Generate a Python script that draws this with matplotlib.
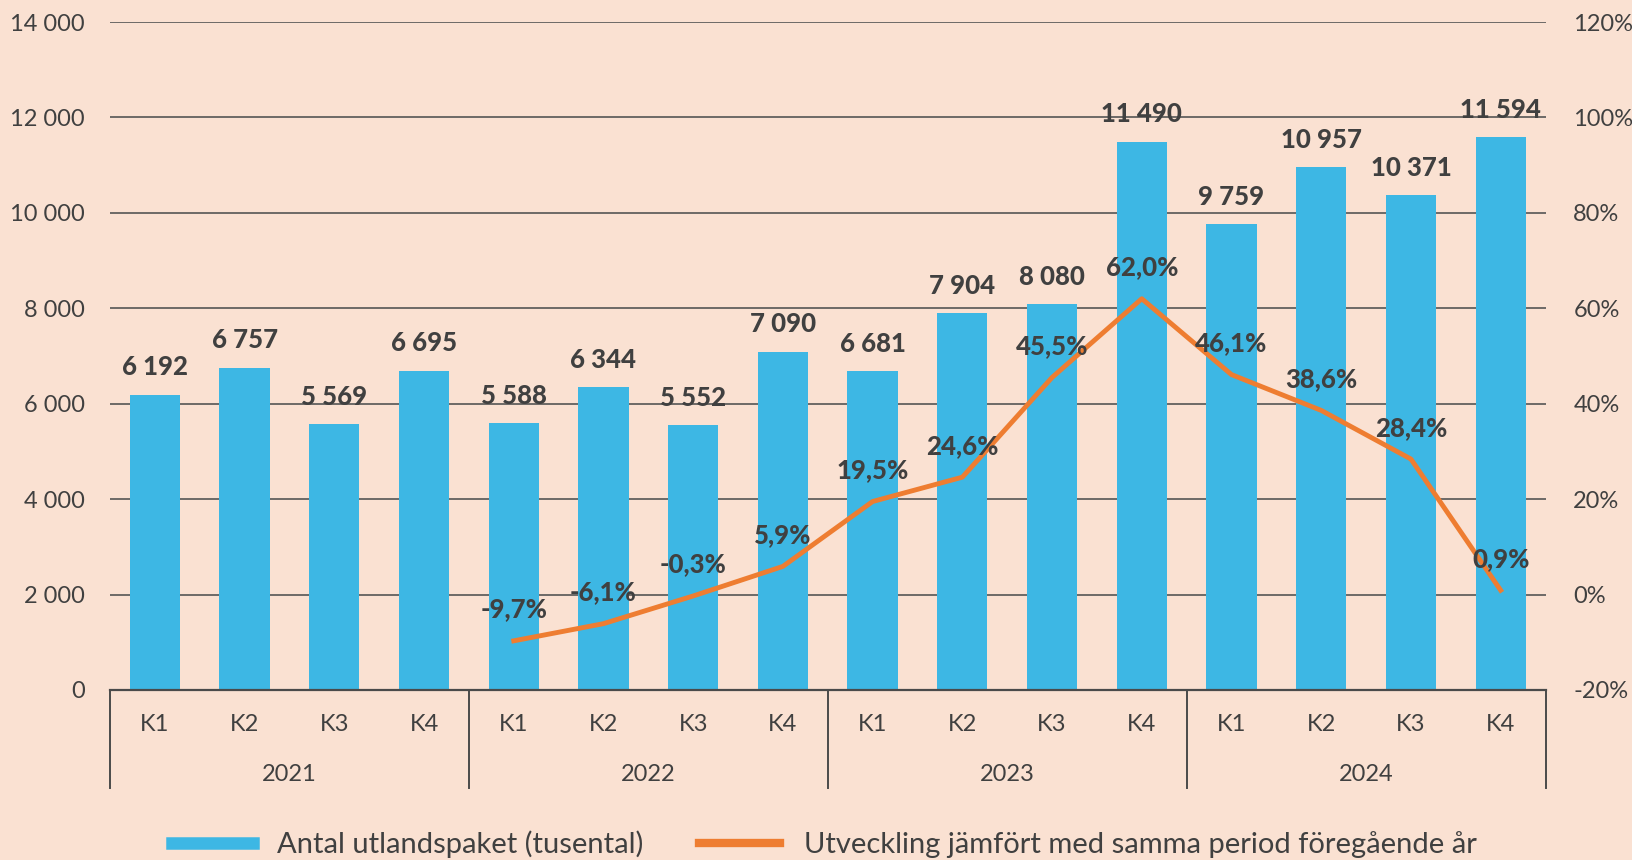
import matplotlib.pyplot as plt
import matplotlib.transforms as mtransforms
from matplotlib.lines import Line2D

# data
quarters = ['K1', 'K2', 'K3', 'K4'] * 4
years = ['2021', '2022', '2023', '2024']
parcels = [6192, 6757, 5569, 6695, 5588, 6344, 5552, 7090,
           6681, 7904, 8080, 11490, 9759, 10957, 10371, 11594]
change = [None, None, None, None, -9.7, -6.1, -0.3, 5.9,
          19.5, 24.6, 45.5, 62.0, 46.1, 38.6, 28.4, 0.9]

BG = '#FAE1D2'
BLUE = '#3DB7E4'
ORANGE = '#EE7D31'
TXT = '#404040'

plt.rcParams['font.family'] = ['Lato', 'DejaVu Sans']

fig = plt.figure(figsize=(16.32, 8.6), dpi=100, facecolor=BG)
ax = fig.add_axes([0.0674, 0.1977, 0.947 - 0.0674, 0.9744 - 0.1977])
ax.set_facecolor(BG)
ax2 = ax.twinx()

x = list(range(len(parcels)))
ax.bar(x, parcels, width=0.56, color=BLUE, zorder=2)
ax.set_xlim(-0.5, 15.5)
ax.set_ylim(0, 14000)
ax.set_yticks(range(0, 14001, 2000))
ax.set_yticklabels([f'{v:,}'.replace(',', ' ') for v in range(0, 14001, 2000)])
ax.grid(axis='y', color='#555555', linewidth=1.2, zorder=0)
ax.set_axisbelow(True)

for s in ['top', 'left', 'right']:
    ax.spines[s].set_visible(False)
    ax2.spines[s].set_visible(False)
ax2.spines['bottom'].set_visible(False)
ax.spines['bottom'].set_color('#4a4a4a')
ax.spines['bottom'].set_linewidth(1.6)

ax.tick_params(axis='y', length=0, pad=18, labelsize=17, labelcolor=TXT)
ax.set_xticks(x)
ax.set_xticklabels(quarters)
ax.tick_params(axis='x', length=0, pad=17, labelsize=17, labelcolor=TXT)

for xi, v in zip(x, parcels):
    ax.annotate(f'{v:,}'.replace(',', ' '), (xi, v), xytext=(0, 11),
                textcoords='offset points', ha='center', va='bottom',
                fontsize=18.5, fontweight='black', color=TXT, zorder=5)

# second level of the category axis
trans = mtransforms.blended_transform_factory(ax.transData, ax.transAxes)
for b in [-0.5, 3.5, 7.5, 11.5, 15.5]:
    ax.plot([b, b], [0, -0.147], transform=trans, color='#4a4a4a',
            linewidth=1.4, clip_on=False)
for i, yr in enumerate(years):
    ax.text(i * 4 + 1.5, -0.126, yr, transform=trans, ha='center',
            va='center', fontsize=17, color=TXT)

# line on the secondary axis
px = [xi for xi, c in zip(x, change) if c is not None]
py = [c for c in change if c is not None]
ax2.set_ylim(-20, 120)
ax2.set_yticks(range(-20, 121, 20))
ax2.set_yticklabels([f'{v}%' for v in range(-20, 121, 20)])
ax2.tick_params(axis='y', length=0, pad=20, labelsize=17, labelcolor=TXT)
ax2.plot(px, py, color=ORANGE, linewidth=3.5, zorder=3)
for xi, c in zip(px, py):
    ax2.annotate(f'{c:.1f}%'.replace('.', ','), (xi, c), xytext=(0, 14),
                 textcoords='offset points', ha='center', va='bottom',
                 fontsize=18.5, fontweight='black', color=TXT, zorder=5)

handles = [Line2D([], [], color=BLUE, linewidth=9),
           Line2D([], [], color=ORANGE, linewidth=6)]
fig.legend(handles, ['Antal utlandspaket (tusental)',
                     'Utveckling jämfört med samma period föregående år'],
           loc='center', bbox_to_anchor=(0.505, 0.018), ncol=2, frameon=False,
           fontsize=21, handlelength=2.8, columnspacing=1.9,
           labelcolor=TXT)

fig.savefig('out.png', dpi=100, facecolor=BG)
